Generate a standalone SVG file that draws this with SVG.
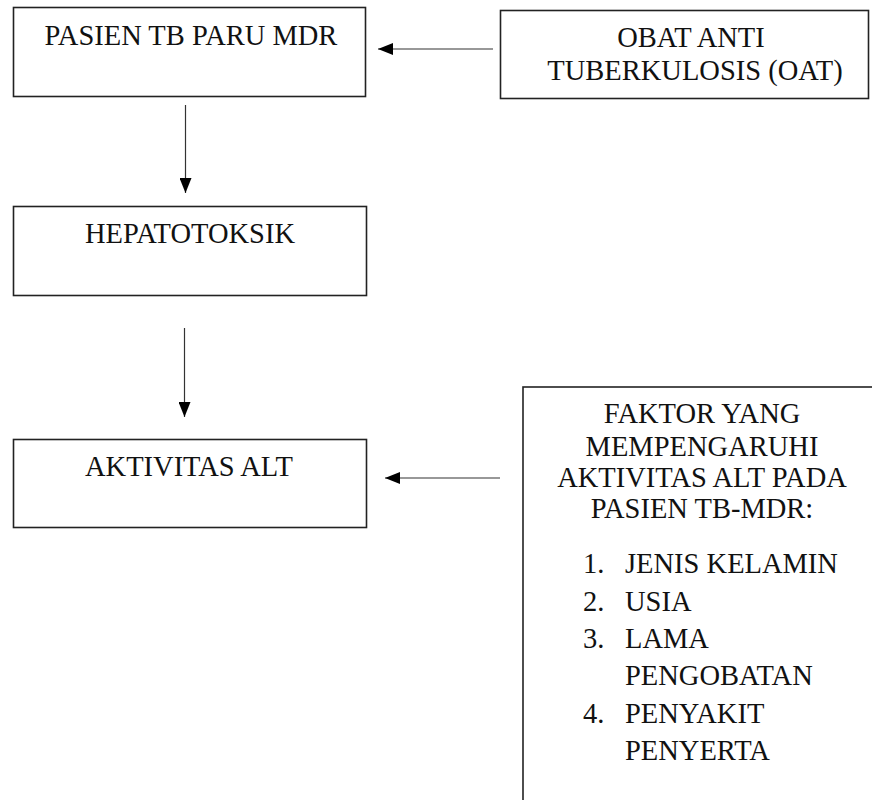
<svg xmlns="http://www.w3.org/2000/svg" width="872" height="800" viewBox="0 0 872 800">
<style>
.box{fill:#fff;stroke:#222;stroke-width:1.6}
.t{font-size:28.5px;fill:#111}
.c{text-anchor:middle}
.ln{stroke:#333;stroke-width:1.2;fill:none}
</style>
<defs>
<marker id="ah" markerWidth="15" markerHeight="12" refX="15" refY="6" orient="auto" markerUnits="userSpaceOnUse">
<path d="M0,0 L15,6 L0,12 z" fill="#000"/>
</marker>
</defs>
<rect width="872" height="800" fill="#fff"/>
<g font-family="Liberation Serif">
<g id="pasien">
<rect class="box" x="13.5" y="7.5" width="352" height="89"/>
<text class="t c" x="191" y="45">PASIEN TB PARU MDR</text>
</g>
<g id="oat">
<rect class="box" x="500.5" y="10.5" width="368" height="88"/>
<text class="t c" x="691" y="47">OBAT ANTI</text>
<text class="t c" x="695" y="80">TUBERKULOSIS (OAT)</text>
</g>
<g id="hepatotoksik">
<rect class="box" x="13.5" y="206.5" width="353" height="89"/>
<text class="t c" x="190" y="243">HEPATOTOKSIK</text>
</g>
<g id="alt">
<rect class="box" x="13.5" y="439.5" width="353" height="88"/>
<text class="t c" x="189" y="476">AKTIVITAS ALT</text>
</g>
<g id="faktor">
<rect class="box" x="523" y="387" width="420" height="460"/>
<text class="t c" x="702" y="423">FAKTOR YANG</text>
<text class="t c" x="702" y="456">MEMPENGARUHI</text>
<text class="t c" x="702" y="487">AKTIVITAS ALT PADA</text>
<text class="t c" x="702" y="518">PASIEN TB-MDR:</text>
<text class="t" x="583" y="573">1.</text><text class="t" x="625" y="573">JENIS KELAMIN</text>
<text class="t" x="583" y="611">2.</text><text class="t" x="625" y="611">USIA</text>
<text class="t" x="583" y="648">3.</text><text class="t" x="625" y="648">LAMA</text>
<text class="t" x="625" y="685">PENGOBATAN</text>
<text class="t" x="583" y="723">4.</text><text class="t" x="625" y="723">PENYAKIT</text>
<text class="t" x="625" y="760">PENYERTA</text>
</g>
</g>
<g id="connectors">
<line class="ln" x1="493" y1="49" x2="378" y2="49" marker-end="url(#ah)"/>
<line class="ln" x1="185.5" y1="105" x2="185.5" y2="193" marker-end="url(#ah)"/>
<line class="ln" x1="184.5" y1="328" x2="184.5" y2="417" marker-end="url(#ah)"/>
<line class="ln" x1="500" y1="478" x2="385" y2="478" marker-end="url(#ah)"/>
</g>
</svg>
